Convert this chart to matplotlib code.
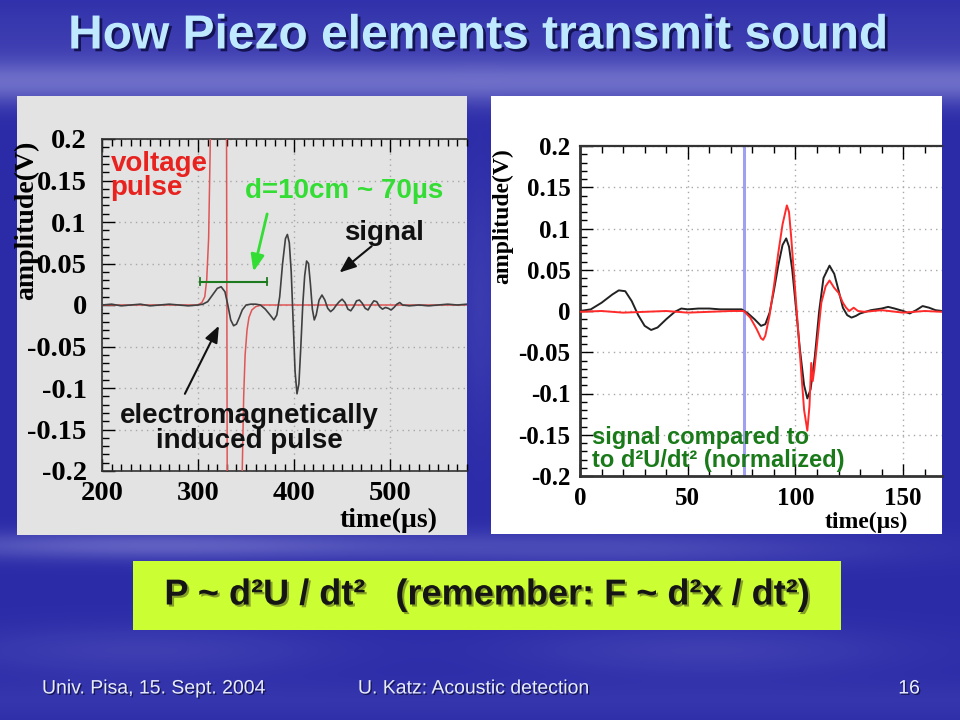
import numpy as np
import matplotlib
matplotlib.use("Agg")
import matplotlib.pyplot as plt
import matplotlib.patheffects as pe
from matplotlib.patches import Rectangle
from matplotlib.ticker import MultipleLocator

# ---------------- data ----------------
# left plot: measured signal (black) and voltage pulse (red), time in µs
left_signal_t = [200, 210, 220, 230, 240, 250, 260, 270, 280, 290, 300, 305, 310, 315, 320, 324,
                 328, 331, 334, 337, 340, 343, 346, 350, 355, 360, 365, 370, 375, 379, 382, 385,
                 388, 391, 393, 395, 397, 399, 401, 403, 405, 407, 409, 411, 413, 415, 417, 419,
                 421, 423, 426, 429, 432, 435, 438, 441, 444, 447, 450, 453, 456, 459, 462, 465,
                 468, 471, 474, 477, 480, 483, 486, 489, 492, 495, 498, 501, 504, 507, 510, 513,
                 520, 530, 540, 550, 560, 570, 580]
left_signal_v = [0.0, 0.001, -0.001, 0.0, 0.001, -0.001, 0.0, 0.001, 0.0, -0.001, 0.0, 0.001,
                 0.004, 0.012, 0.020, 0.022, 0.016, 0.0, -0.018, -0.025, -0.023, -0.015, -0.006,
                 0.0, 0.001, 0.001, 0.0, -0.005, -0.012, -0.018, -0.012, 0.010, 0.050, 0.080,
                 0.085, 0.075, 0.040, -0.020, -0.080, -0.107, -0.095, -0.050, 0.0, 0.035, 0.053,
                 0.050, 0.025, -0.005, -0.018, -0.012, 0.006, 0.012, 0.006, -0.004, -0.008,
                 -0.005, 0.0, 0.004, 0.007, 0.003, -0.005, -0.007, -0.002, 0.005, 0.006, 0.002,
                 -0.004, -0.006, 0.0, 0.005, 0.004, -0.002, -0.005, -0.003, -0.004, -0.006,
                 -0.003, 0.001, 0.003, 0.0, -0.001, 0.0, -0.001, 0.0, 0.001, 0.0, 0.001]
left_pulse_t = [200, 300, 304, 307, 309, 311, 312.5, 314, 329.5, 330.5, 345, 346, 347.5, 349,
                351, 353, 356, 360, 366, 580]
left_pulse_v = [0.0, 0.0, 0.003, 0.010, 0.030, 0.080, 0.180, 0.300, 0.300, -0.300, -0.300,
                -0.200, -0.110, -0.060, -0.030, -0.015, -0.006, -0.002, 0.0, 0.0]

# right plot: signal (black) vs normalised d2U/dt2 (red)
right_signal_t = [0, 5, 10, 15, 18, 21, 24, 27, 30, 33, 36, 40, 44, 47, 50, 55, 60, 65, 70, 75,
                  78, 81, 84, 86, 88, 90, 92, 94, 95.7, 97, 98.5, 100, 102, 104, 105.5, 107,
                  109, 111, 113, 115.8, 118, 120, 122, 124, 126, 128, 130, 135, 140, 143, 146,
                  150, 153, 156, 159, 162, 165, 168]
right_signal_v = [0.0, 0.002, 0.010, 0.020, 0.025, 0.024, 0.012, -0.005, -0.018, -0.023,
                  -0.020, -0.010, -0.001, 0.003, 0.002, 0.003, 0.003, 0.002, 0.002, 0.002,
                  -0.003, -0.010, -0.018, -0.016, -0.002, 0.025, 0.055, 0.080, 0.088, 0.078,
                  0.050, 0.010, -0.045, -0.090, -0.106, -0.095, -0.055, 0.0, 0.040, 0.055,
                  0.045, 0.025, 0.004, -0.005, -0.008, -0.006, -0.003, 0.001, 0.003, 0.005,
                  0.003, 0.0, -0.003, 0.001, 0.006, 0.004, 0.001, 0.0]
right_d2u_t = [0, 10, 20, 30, 40, 50, 60, 70, 76, 79, 82, 84, 85, 86, 88, 90, 92, 94, 96, 97,
               98, 100, 102, 104, 105.5, 106.5, 107.3, 108, 108.8, 110, 112, 114, 115.8, 118,
               120, 122, 123.5, 125, 127, 129, 132, 140, 150, 160, 168]
right_d2u_v = [-0.001, 0.0, -0.002, -0.001, 0.0, -0.002, -0.001, 0.0, 0.0, -0.008, -0.022,
               -0.033, -0.035, -0.030, -0.005, 0.030, 0.070, 0.105, 0.128, 0.120, 0.090, 0.020,
               -0.050, -0.120, -0.145, -0.115, -0.063, -0.085, -0.070, -0.040, 0.010, 0.030,
               0.037, 0.028, 0.022, 0.010, 0.004, 0.0, 0.004, 0.0, -0.001, 0.001, -0.002, 0.0,
               -0.001]

y_ticks = [-0.2, -0.15, -0.1, -0.05, 0, 0.05, 0.1, 0.15, 0.2]
y_tick_labels = ["-0.2", "-0.15", "-0.1", "-0.05", "0", "0.05", "0.1", "0.15", "0.2"]
left_x_ticks = [200, 300, 400, 500]
right_x_ticks = [0, 50, 100, 150]
marker_time = 76                 # blue vertical marker on right plot
delay_bar_t = [302, 372]         # 70 µs delay bar
delay_bar_level = 0.028

# ---------------- figure / background ----------------
fig = plt.figure(figsize=(9.6, 7.2), dpi=100)
bg = fig.add_axes([0, 0, 1, 1])
bg.set_xlim(0, 960)
bg.set_ylim(720, 0)
bg.axis("off")

yy, xx = np.mgrid[0:720, 0:960].astype(float)
base = np.array([0.17, 0.17, 0.66])
light = np.array([0.80, 0.80, 0.97])
w = (0.38 * np.exp(-((yy - 82) / 22) ** 2)
     + 0.10 * np.exp(-((yy - 40) / 40) ** 2)
     + 0.32 * np.exp(-((yy - 545) / 14) ** 2) * np.exp(-((xx - 150) / 260) ** 2)
     + 0.18 * np.exp(-((yy - 548) / 18) ** 2) * np.exp(-((xx - 620) / 260) ** 2)
     + 0.12 * np.exp(-((yy - 650) / 25) ** 2) * (0.6 + 0.4 * np.sin(xx / 90.0))
     + 0.10 * np.exp(-((yy - 300) / 120) ** 2) * np.exp(-((xx - 480) / 20) ** 2)
     + 0.06 * np.exp(-((yy - 700) / 20) ** 2))
w = np.clip(w, 0, 1)[..., None]
img = base * (1 - w) + light * w
bg.imshow(img, extent=(0, 960, 720, 0), aspect="auto", zorder=0)

# panels
bg.add_patch(Rectangle((17, 96), 450, 439, facecolor="#e3e3e3", edgecolor="none", zorder=1))
bg.add_patch(Rectangle((491, 96), 451, 438, facecolor="white", edgecolor="none", zorder=1))
bg.add_patch(Rectangle((133, 561), 708, 69, facecolor="#ccff33", edgecolor="none", zorder=1))

shadow = [pe.withSimplePatchShadow(offset=(2, -2), shadow_rgbFace="#10104a", alpha=0.9)]
bg.text(478, 36, "How Piezo elements transmit sound", ha="center", va="center",
        fontsize=34.5, fontweight="bold", color="#bfe9ff",
        family=["Liberation Sans", "DejaVu Sans"], path_effects=shadow, zorder=3)

bg.text(487, 595, "P ~ d²U / dt²   (remember: F ~ d²x / dt²)", ha="center", va="center",
        fontsize=26, fontweight="bold", color="#151515",
        family=["Liberation Sans", "DejaVu Sans"],
        path_effects=[pe.withSimplePatchShadow(offset=(1.5, -1.5), shadow_rgbFace="#667722", alpha=0.7)],
        zorder=3)

foot = dict(fontsize=14, color="#e8ecff", va="center",
            family=["Liberation Sans", "DejaVu Sans"], zorder=3,
            path_effects=[pe.withSimplePatchShadow(offset=(1, -1), shadow_rgbFace="#101040", alpha=0.8)])
bg.text(42, 689, "Univ. Pisa, 15. Sept. 2004", ha="left", **foot)
bg.text(474, 689, "U. Katz: Acoustic detection", ha="center", **foot)
bg.text(920, 689, "16", ha="right", **foot)

serif = ["Liberation Serif", "DejaVu Serif"]
sans = ["Liberation Sans", "DejaVu Sans"]


def style_axes(ax, xmin_loc, ymin_loc, label_size):
    ax.set_yticks(y_ticks)
    ax.set_yticklabels(y_tick_labels)
    ax.yaxis.set_minor_locator(MultipleLocator(ymin_loc))
    ax.xaxis.set_minor_locator(MultipleLocator(xmin_loc))
    ax.tick_params(which="both", direction="in", top=True, right=False, colors="black",
                   width=1.0)
    ax.tick_params(which="major", length=9)
    ax.tick_params(which="minor", length=5)
    for lab in ax.get_xticklabels() + ax.get_yticklabels():
        lab.set_family(serif)
        lab.set_fontweight("bold")
        lab.set_fontsize(label_size)
    ax.grid(True, which="major", color="#a8a8a8", linestyle=(0, (1, 3)), linewidth=1.0)
    ax.set_axisbelow(True)
    ax.spines["right"].set_visible(False)
    for s in ("left", "bottom", "top"):
        ax.spines[s].set_color("#333333")
        ax.spines[s].set_linewidth(1.2)


# ---------------- left plot ----------------
axL = fig.add_axes([102 / 960, 1 - 471 / 720, (467 - 102) / 960, (471 - 139) / 720])
axL.set_facecolor("#e3e3e3")
axL.plot(left_pulse_t, left_pulse_v, color="#e05555", lw=1.1, zorder=3)
axL.plot(left_signal_t, left_signal_v, color="#404040", lw=1.2, zorder=4)
axL.set_xlim(200, 580)
axL.set_ylim(-0.2, 0.2)
axL.set_xticks(left_x_ticks)
style_axes(axL, 10, 0.01, 20.5)
axL.tick_params(axis="y", pad=11)
axL.tick_params(axis="x", pad=7)

axL.plot(delay_bar_t, [delay_bar_level] * 2, color="#1e7a1e", lw=1.5, zorder=5)
for t in delay_bar_t:
    axL.plot([t, t], [delay_bar_level - 0.004, delay_bar_level + 0.004], color="#1e7a1e",
             lw=1.3, zorder=5)

axL.text(209, 0.186, "voltage\npulse", color="#e8221e", fontsize=20, fontweight="bold",
         family=sans, ha="left", va="top", linespacing=0.9, zorder=6)
axL.text(349, 0.137, "d=10cm ~ 70µs", color="#33dd33", fontsize=20, fontweight="bold",
         family=sans, ha="left", va="center", zorder=6)
axL.text(452, 0.087, "signal", color="#111111", fontsize=20, fontweight="bold",
         family=sans, ha="left", va="center", zorder=6)
axL.text(353, -0.149, "electromagnetically\ninduced pulse", color="#111111", fontsize=20,
         fontweight="bold", family=sans, ha="center", va="center", linespacing=0.95, zorder=6)
axL.annotate("", xy=(357, 0.037), xytext=(372.6, 0.113),
             arrowprops=dict(arrowstyle="-|>,head_length=1.0,head_width=0.4", color="#33dd33",
                             lw=2.0), zorder=6)
axL.annotate("", xy=(445, 0.037), xytext=(483, 0.073),
             arrowprops=dict(arrowstyle="-|>,head_length=1.0,head_width=0.4", color="#111111",
                             lw=1.5), zorder=6)
axL.annotate("", xy=(323, -0.022), xytext=(285, -0.11),
             arrowprops=dict(arrowstyle="-|>,head_length=1.0,head_width=0.4", color="#111111",
                             lw=1.5), zorder=6)

bg.text(27, 220, "amplitude(V)", rotation=90, ha="center", va="center", fontsize=20,
        fontweight="bold", family=serif, zorder=3)
bg.text(388, 520, "time(µs)", ha="center", va="center", fontsize=20, fontweight="bold",
        family=serif, zorder=3)

# ---------------- right plot ----------------
axR = fig.add_axes([580 / 960, 1 - 476 / 720, (942 - 580) / 960, (476 - 146) / 720])
axR.set_facecolor("white")
axR.axvline(marker_time, color="#a0a0f0", lw=2.2, zorder=2)
axR.plot(right_signal_t, right_signal_v, color="#222222", lw=1.4, zorder=4)
axR.plot(right_d2u_t, right_d2u_v, color="#ff2a2a", lw=1.4, zorder=5)
axR.set_xlim(0, 168)
axR.set_ylim(-0.2, 0.2)
axR.set_xticks(right_x_ticks)
style_axes(axR, 10, 0.01, 18)
axR.tick_params(axis="y", pad=7)
axR.tick_params(axis="x", pad=8)
axR.spines["left"].set_linewidth(2.0)
axR.spines["bottom"].set_linewidth(2.0)
axR.spines["top"].set_linewidth(1.6)

axR.text(5.5, -0.167, "signal compared to\nto d²U/dt² (normalized)", color="#1a7a1a",
         fontsize=17, fontweight="bold", family=sans, ha="left", va="center",
         linespacing=1.0, zorder=6)

bg.text(503, 216, "amplitude(V)", rotation=90, ha="center", va="center", fontsize=17,
        fontweight="bold", family=serif, zorder=3)
bg.text(866, 522, "time(µs)", ha="center", va="center", fontsize=17, fontweight="bold",
        family=serif, zorder=3)

fig.savefig("out.png", dpi=100)
